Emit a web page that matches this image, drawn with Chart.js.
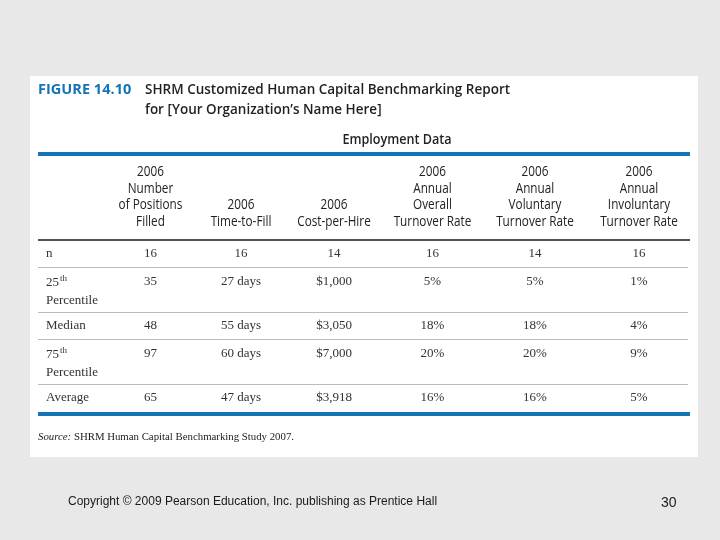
<!DOCTYPE html>
<html>
<head>
<meta charset="utf-8">
<script src="https://cdn.jsdelivr.net/npm/chart.js@4.4.1/dist/chart.umd.min.js"></script>
<style>
    html, body { margin: 0; padding: 0; background: #e8e8e8; }
    #wrap { width: 720px; height: 540px; }
</style>
</head>
<body>
<div id="wrap"><canvas id="benchmarkChart" width="720" height="540"></canvas></div>
<script>
// table content
const rowLabels = ['n', '25th\nPercentile', 'Median', '75th\nPercentile', 'Average'];
const columnHeaders = [
    ['2006', 'Number', 'of Positions', 'Filled'],
    ['2006', 'Time-to-Fill'],
    ['2006', 'Cost-per-Hire'],
    ['2006', 'Annual', 'Overall', 'Turnover Rate'],
    ['2006', 'Annual', 'Voluntary', 'Turnover Rate'],
    ['2006', 'Annual', 'Involuntary', 'Turnover Rate']
];
const positionsFilled = [16, 35, 48, 97, 65];
const timeToFill = [16, 27, 55, 60, 47];
const costPerHire = [14, 1000, 3050, 7000, 3918];
const overallTurnover = [16, 5, 18, 20, 16];
const voluntaryTurnover = [14, 5, 18, 20, 16];
const involuntaryTurnover = [16, 1, 4, 9, 5];
const units = ['', 'days', 'dollars', 'percent', 'percent', 'percent'];

document.addEventListener('DOMContentLoaded', function() {
    const columns = [positionsFilled, timeToFill, costPerHire, overallTurnover, voluntaryTurnover, involuntaryTurnover];

    // layout: relative column widths and row heights (scale units)
    const colWeights = [91, 90, 96, 101, 104, 104];
    const rowHeights = rowLabels.map(function(l, i) {
        const h = l.split('\n').length > 1 ? 44.5 : 27.5;
        return i === rowLabels.length - 1 ? h + 1 : h;
    });
    const colCenters = [];
    let acc = 0;
    colWeights.forEach(function(w) { colCenters.push(acc + w / 2); acc += w; });
    const xMax = acc;
    const rowTops = [];
    acc = 0;
    rowHeights.forEach(function(h) { rowTops.push(acc); acc += h; });
    const yMax = acc;

    function formatValue(v, row, unit) {
        if (row === 0) return String(v); // "n" row is a count
        if (unit === 'days') return v + ' days';
        if (unit === 'dollars') return '$' + v.toLocaleString('en-US');
        if (unit === 'percent') return v + '%';
        return String(v);
    }

    function squeezed(ctx, text, x, y, sx, align) {
        const w = ctx.measureText(text).width * sx;
        let left = x;
        if (align === 'center') left = x - w / 2;
        if (align === 'right') left = x - w;
        ctx.save();
        ctx.translate(left, y);
        ctx.scale(sx, 1);
        ctx.textAlign = 'left';
        ctx.fillText(text, 0, 0);
        ctx.restore();
    }

    function hLine(ctx, x1, x2, y, width, color) {
        ctx.save();
        ctx.strokeStyle = color;
        ctx.lineWidth = width;
        ctx.beginPath();
        ctx.moveTo(x1, y);
        ctx.lineTo(x2, y);
        ctx.stroke();
        ctx.restore();
    }

    const BLUE = '#1574b6';
    const TEXT = '#231f20';

    const tablePlugin = {
        id: 'tablePlugin',
        beforeDraw: function(chart) {
            const ctx = chart.ctx;
            const xs = chart.scales.x, ys = chart.scales.y;
            const area = chart.chartArea;
            ctx.save();
            ctx.fillStyle = '#e8e8e8';
            ctx.fillRect(0, 0, chart.width, chart.height);
            ctx.fillStyle = '#ffffff';
            ctx.fillRect(30, 76, 668, 381);
            ctx.textBaseline = 'middle';

            // title
            ctx.fillStyle = BLUE;
            ctx.font = 'bold 15px "Open Sans"';
            squeezed(ctx, 'FIGURE 14.10', 38, 89.5, 0.97, 'left');
            ctx.fillStyle = TEXT;
            ctx.font = '600 15px "Open Sans"';
            squeezed(ctx, 'SHRM Customized Human Capital Benchmarking Report', 145, 89.5, 0.9, 'left');
            squeezed(ctx, 'for [Your Organization\u2019s Name Here]', 145, 109.5, 0.9, 'left');
            ctx.font = '600 14px "Open Sans"';
            squeezed(ctx, 'Employment Data', 397, 140.5, 0.9, 'center');
            hLine(ctx, 38, 690, 154, 4, BLUE);

            // column headers, bottom aligned
            ctx.fillStyle = '#222222';
            ctx.font = '14px "Open Sans"';
            columnHeaders.forEach(function(lines, c) {
                const cx = xs.getPixelForValue(colCenters[c]);
                lines.forEach(function(t, k) {
                    const y = 222 - (lines.length - 1 - k) * 16.7;
                    squeezed(ctx, t, cx, y, 0.84, 'center');
                });
            });
            hLine(ctx, 38, 690, area.top, 1.5, '#1a1a1a');

            // row separators
            for (let r = 1; r < rowTops.length; r++) {
                hLine(ctx, 38, 688, Math.round(ys.getPixelForValue(rowTops[r])) + 0.5, 1, '#bcbcbc');
            }
            hLine(ctx, 38, 690, area.bottom + 2, 4, BLUE);

            // row labels
            ctx.fillStyle = '#333333';
            rowLabels.forEach(function(label, r) {
                const top = ys.getPixelForValue(rowTops[r]) + 14;
                label.split('\n').forEach(function(line, k) {
                    const y = top + k * 19;
                    const m = line.match(/^(\d+)(th)$/);
                    ctx.textAlign = 'left';
                    ctx.font = '13px "Liberation Serif"';
                    if (m) {
                        ctx.fillText(m[1], 46, y + 1);
                        const w = ctx.measureText(m[1]).width;
                        ctx.font = '9px "Liberation Serif"';
                        ctx.fillText(m[2], 46 + w + 1, y - 3);
                    } else {
                        ctx.fillText(line, 46, y);
                    }
                });
            });

            // source
            ctx.font = 'italic 10.8px "Liberation Serif"';
            ctx.fillStyle = '#222';
            ctx.fillText('Source:', 38, 437);
            const sw = ctx.measureText('Source: ').width;
            ctx.font = '10.8px "Liberation Serif"';
            ctx.fillText('SHRM Human Capital Benchmarking Study 2007.', 38 + sw, 437);

            // slide footer
            ctx.font = '12px "Liberation Sans"';
            ctx.fillStyle = '#1a1a1a';
            ctx.fillText('Copyright \u00a9 2009 Pearson Education, Inc. publishing as Prentice Hall', 68, 502);
            ctx.font = '14px "Liberation Sans"';
            ctx.fillText('30', 661, 503);
            ctx.restore();
        },
        afterDatasetsDraw: function(chart) {
            const ctx = chart.ctx;
            ctx.save();
            ctx.font = '13px "Liberation Serif"';
            ctx.fillStyle = '#333333';
            ctx.textAlign = 'center';
            ctx.textBaseline = 'middle';
            chart.data.datasets.forEach(function(ds, c) {
                chart.getDatasetMeta(c).data.forEach(function(pt, r) {
                    ctx.fillText(formatValue(columns[c][r], r, units[c]), pt.x, pt.y);
                });
            });
            ctx.restore();
        }
    };

    const ctx = document.getElementById('benchmarkChart').getContext('2d');
    new Chart(ctx, {
        type: 'scatter',
        data: {
            datasets: columns.map(function(vals, c) {
                return {
                    label: columnHeaders[c].join(' '),
                    data: vals.map(function(v, r) {
                        return { x: colCenters[c], y: rowTops[r] + 14, v: v };
                    }),
                    pointRadius: 0
                };
            })
        },
        options: {
            responsive: false,
            animation: false,
            devicePixelRatio: 1,
            layout: { padding: { left: 105, right: 29, top: 240, bottom: 128 } },
            scales: {
                x: { type: 'linear', min: 0, max: xMax, display: false },
                y: { type: 'linear', min: 0, max: yMax, reverse: true, display: false }
            },
            plugins: {
                legend: { display: false },
                tooltip: { enabled: false }
            }
        },
        plugins: [tablePlugin]
    });
});
</script>
</body>
</html>
